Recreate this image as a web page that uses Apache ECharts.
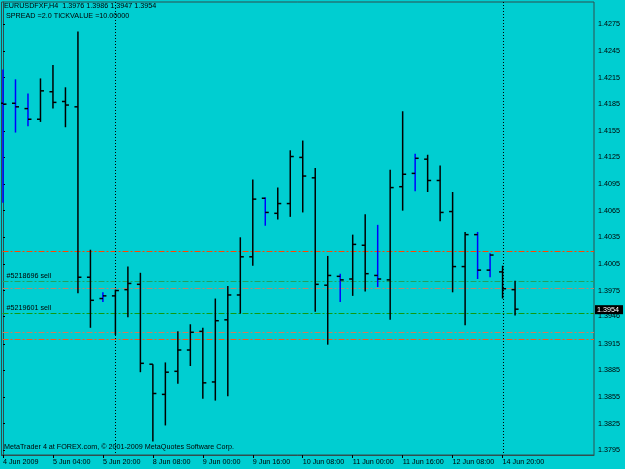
<!DOCTYPE html>
<html><head><meta charset="utf-8">
<script src="https://cdn.jsdelivr.net/npm/echarts@6/dist/echarts.min.js"></script>
<style>html,body{margin:0;padding:0;background:#00CED1;}#c{width:625px;height:469px;}</style>
</head><body><div id="c"></div>
<script>
const symbolInfo = "EURUSDFXF,H4  1.3976 1.3986 1.3947 1.3954";
const spreadInfo = " SPREAD =2.0 TICKVALUE =10.00000";
const copyright = "MetaTrader 4 at FOREX.com, \u00a9 2001-2009 MetaQuotes Software Corp.";

const times = ["4 Jun 12:00","4 Jun 16:00","4 Jun 20:00","5 Jun 00:00","5 Jun 04:00","5 Jun 08:00","5 Jun 12:00","5 Jun 16:00","5 Jun 20:00",
  "7 Jun 20:00","8 Jun 00:00","8 Jun 04:00","8 Jun 08:00","8 Jun 12:00","8 Jun 16:00","8 Jun 20:00",
  "9 Jun 00:00","9 Jun 04:00","9 Jun 08:00","9 Jun 12:00","9 Jun 16:00","9 Jun 20:00",
  "10 Jun 00:00","10 Jun 04:00","10 Jun 08:00","10 Jun 12:00","10 Jun 16:00","10 Jun 20:00",
  "11 Jun 00:00","11 Jun 04:00","11 Jun 08:00","11 Jun 12:00","11 Jun 16:00","11 Jun 20:00",
  "12 Jun 00:00","12 Jun 04:00","12 Jun 08:00","12 Jun 12:00","12 Jun 16:00","12 Jun 20:00",
  "14 Jun 20:00","15 Jun 00:00"];
const opens  = [1.4186,1.4186,1.4180,1.4168,1.4199,1.4188,1.4182,1.3990,1.3966,1.3969,1.3976,1.3982,1.3892,1.3858,1.3884,1.3908,1.3929,1.3872,1.3942,1.3970,1.4013,1.4079,1.4062,1.4073,1.4125,1.4102,1.3981,1.3991,1.3988,1.4026,1.3992,1.3987,1.4092,1.4107,1.4123,1.4099,1.4064,1.4002,1.4038,1.3998,1.3996,1.3976];
const highs  = [1.4224,1.4213,1.4197,1.4214,1.4229,1.4204,1.4267,1.4021,1.3973,1.3976,1.4002,1.3995,1.3892,1.3894,1.3929,1.3937,1.3933,1.3966,1.3980,1.4035,1.4100,1.4080,1.4091,1.4133,1.4144,1.4113,1.4014,1.3994,1.4038,1.4061,1.4049,1.4111,1.4177,1.4129,1.4128,1.4116,1.4086,1.4041,1.4041,1.4017,1.4003,1.3986];
const lows   = [1.4074,1.4153,1.4160,1.4165,1.4180,1.4159,1.3972,1.3933,1.3962,1.3925,1.3945,1.3883,1.3805,1.3823,1.3870,1.3890,1.3853,1.3851,1.3856,1.3949,1.4003,1.4048,1.4055,1.4058,1.4063,1.3951,1.3914,1.3962,1.3969,1.3974,1.3979,1.3942,1.4065,1.4087,1.4086,1.4053,1.3973,1.3936,1.3988,1.3990,1.3966,1.3947];
const closes = [1.4185,1.4182,1.4168,1.4200,1.4187,1.4184,1.3990,1.3964,1.3969,1.3975,1.3983,1.3893,1.3859,1.3883,1.3908,1.3928,1.3871,1.3941,1.3970,1.4013,1.4078,1.4063,1.4073,1.4126,1.4104,1.3982,1.3992,1.3987,1.4027,1.3994,1.3988,1.4091,1.4106,1.4124,1.4099,1.4063,1.4002,1.4038,1.3998,1.4015,1.3977,1.3954];
const blueBars = [0,1,2,8,21,27,30,33,38,39];

const xTickIndex  = [0,4,8,12,16,20,24,28,32,36,40];
const xTickLabels = ["4 Jun 2009","5 Jun 04:00","5 Jun 20:00","8 Jun 08:00","9 Jun 00:00","9 Jun 16:00","10 Jun 08:00","11 Jun 00:00","11 Jun 16:00","12 Jun 08:00","14 Jun 20:00"];
const yTickLabels = ["1.4275","1.4245","1.4215","1.4185","1.4155","1.4125","1.4095","1.4065","1.4035","1.4005","1.3975","1.3946","1.3915","1.3885","1.3855","1.3825","1.3795"];
const weekSeparators = [9, 40];
const orderLevels = [1.4020, 1.3986, 1.3978, 1.3950, 1.3928, 1.3920];
const orderTags   = ["", "#5218696 sell", "", "#5219601 sell", "", ""];
const lastPrice = 1.3954;

const FONT = "Liberation Sans";
const FS = 7.2;
const FONTCSS = FS + 'px "' + FONT + '"';
const levelColors = ['#ff4500','#20a060','#b08a70','#109a10','#c88060','#f05a20'];

const chart = echarts.init(document.getElementById('c'), null, {renderer:'canvas'});
const barData = opens.map((o, i) => [i, o, highs[i], lows[i], closes[i], blueBars.includes(i) ? 1 : 0]);

function renderBar(params, api) {
  const i = api.value(0);
  const pO = api.coord([i, api.value(1)]);
  const pH = api.coord([i, api.value(2)]);
  const pL = api.coord([i, api.value(3)]);
  const pC = api.coord([i, api.value(4)]);
  const blue = api.value(5) === 1;
  const x = pO[0], w = 1.5, t = 3.5;
  return {type:'group', children:[
    {type:'line', shape:{x1:x,y1:pH[1],x2:x,y2:pL[1]}, style:{stroke: blue ? '#0000ff' : '#000000', lineWidth:w}},
    {type:'line', shape:{x1:x-t,y1:pO[1],x2:x,y2:pO[1]}, style:{stroke:'#000000', lineWidth:w}},
    {type:'line', shape:{x1:x,y1:pC[1],x2:x+t,y2:pC[1]}, style:{stroke:'#000000', lineWidth:w}}
  ]};
}

function renderLevel(params, api) {
  const k = params.dataIndex;
  const cs = params.coordSys;
  const y = Math.round(api.coord([0, orderLevels[k]])[1]) + 0.5;
  const children = [{type:'line', shape:{x1:cs.x+1, y1:y, x2:cs.x+cs.width, y2:y},
    style:{stroke: levelColors[k], lineWidth:1, lineDash:[6,2,2,2]}}];
  if (orderTags[k]) children.push({type:'text', x: cs.x+5, y: y-2,
    style:{text: orderTags[k], verticalAlign:'bottom', align:'left', fill:'#000', font: FONTCSS}});
  return {type:'group', children};
}

function renderSeparator(params, api) {
  const cs = params.coordSys;
  const x = Math.round(api.coord([weekSeparators[params.dataIndex], 1.4])[0]) + 0.5;
  return {type:'line', shape:{x1:x, y1:cs.y, x2:x, y2:cs.y+cs.height},
    style:{stroke:'#000', lineWidth:1, lineDash:[1,2]}};
}

function renderPriceTag(params, api) {
  const cs = params.coordSys;
  const y = api.coord([0, lastPrice])[1];
  const x0 = cs.x + cs.width + 1;
  return {type:'group', children:[
    {type:'rect', shape:{x:x0, y:y-4, width:28, height:9}, style:{fill:'#000'}},
    {type:'text', x: x0+2, y: y+0.5, style:{text: lastPrice.toFixed(4), verticalAlign:'middle', align:'left', fill:'#fff', font: FONTCSS}}
  ]};
}

chart.setOption({
  backgroundColor: '#00CED1',
  animation: false,
  grid: {left: 1, top: 2, right: 31, bottom: 14, show: true, borderColor: '#2f4f4f', borderWidth: 1, backgroundColor: 'transparent'},
  xAxis: {
    type: 'value', min: -0.12, max: 47.32,
    axisLine: {show: true, lineStyle: {color:'#2f4f4f'}},
    axisTick: {show: true, customValues: xTickIndex, length: 3, lineStyle: {color:'#000'}},
    axisLabel: {customValues: xTickIndex, align: 'left', margin: 4, color:'#000', fontFamily: FONT, fontSize: FS,
      formatter: v => xTickLabels[xTickIndex.indexOf(Math.round(v))] || ''},
    splitLine: {show: false}
  },
  yAxis: {
    type: 'value', position: 'right', min: 1.37897, max: 1.43001, scale: true,
    axisLine: {show: true, lineStyle: {color:'#2f4f4f'}},
    axisTick: {show: true, customValues: yTickLabels.map(Number), length: 2, lineStyle: {color:'#000'}},
    axisLabel: {customValues: yTickLabels.map(Number), margin: 4, color:'#000', fontFamily: FONT, fontSize: FS,
      formatter: v => yTickLabels.find(s => Math.abs(Number(s) - v) < 1e-7) || ''},
    splitLine: {show: false}
  },
  series: [
    {type:'custom', clip:false, z:1, renderItem: renderLevel, data: orderLevels.map((v,k) => [k, v]), encode:{x:0, y:1}},
    {type:'custom', clip:false, z:2, renderItem: renderSeparator, data: weekSeparators.map(v => [v, 1.4]), encode:{x:0, y:1}},
    {type:'custom', clip:true, z:3, renderItem: renderBar, data: barData, encode: {x: 0, y: [1,2,3,4]}},
    {type:'custom', clip:false, z:4, renderItem: renderPriceTag, data: [[0, lastPrice]], encode:{x:0, y:1}}
  ],
  graphic: [
    {type:'text', left: 4, top: 3, style:{text: symbolInfo, fill:'#000', font: FONTCSS}},
    {type:'text', left: 4, top: 12.5, style:{text: spreadInfo, fill:'#000', font: FONTCSS}},
    {type:'text', left: 4, top: 444, style:{text: copyright, fill:'#000', font: FONTCSS}}
  ]
});
</script></body></html>
